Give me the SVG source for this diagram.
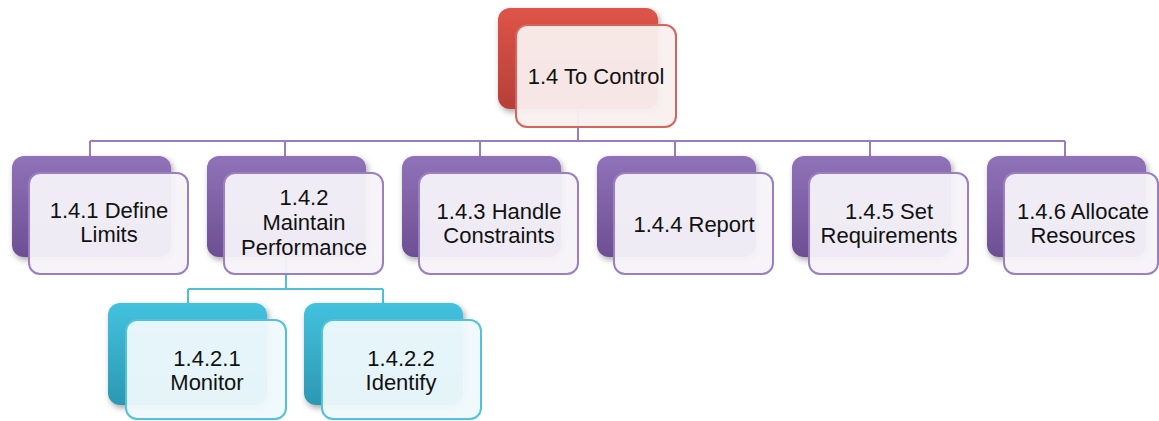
<svg xmlns="http://www.w3.org/2000/svg" width="1159" height="421" viewBox="0 0 1159 421">
  <defs>
    <linearGradient id="gRed" x1="0" y1="0" x2="0" y2="1">
      <stop offset="0" stop-color="#de5449"/>
      <stop offset="1" stop-color="#b63f38"/>
    </linearGradient>
    <linearGradient id="gPurple" x1="0" y1="0" x2="0" y2="1">
      <stop offset="0" stop-color="#9072b9"/>
      <stop offset="1" stop-color="#6d4f93"/>
    </linearGradient>
    <linearGradient id="gCyan" x1="0" y1="0" x2="0" y2="1">
      <stop offset="0" stop-color="#43c2de"/>
      <stop offset="1" stop-color="#2c98b2"/>
    </linearGradient>
    <filter id="shadow" x="-10%" y="-10%" width="125%" height="130%">
      <feDropShadow dx="2" dy="3" stdDeviation="3" flood-color="#000" flood-opacity="0.35"/>
    </filter>
  </defs>
  <style>
    .back { rx: 12px; ry: 12px; filter: url(#shadow); }
    .front { rx: 11px; ry: 11px; stroke-width: 2; }
    .red .back { fill: url(#gRed); }
    .red .front { fill: #f9f0ef; fill-opacity: 0.95; stroke: #d8625c; }
    .purple .back { fill: url(#gPurple); }
    .purple .front { fill: #f5f3f9; fill-opacity: 0.95; stroke: #9a7fc2; }
    .cyan .back { fill: url(#gCyan); }
    .cyan .front { fill: #eff9fc; fill-opacity: 0.95; stroke: #52c2da; }
    text { font-family: "Liberation Sans", Arial, sans-serif; font-size: 22px; fill: #111; text-anchor: middle; }
    .conn { fill: none; stroke-width: 2; }
    .conn.p { stroke: #9a7cc2; }
    .conn.c { stroke: #4fc0d9; }
  </style>

  <!-- tree connectors -->
  <g id="connectors">
    <path class="conn p" d="M578 110 V141 M90 141 H1065 M90 141 V157 M285 141 V157 M480 141 V157 M675 141 V157 M870 141 V157 M1065 141 V157"/>
    <path class="conn c" d="M286 257 V289 M188 289 H383 M188 289 V304 M383 289 V304"/>
  </g>

  <g id="n1_4" class="red">
    <rect class="back" x="498" y="8" width="160" height="101"/>
    <rect class="front" x="516" y="25" width="160" height="102"/>
    <text x="596" y="84">1.4 To Control</text>
  </g>

  <g id="n1_4_1" class="purple">
    <rect class="back" x="12" y="156" width="159" height="101"/>
    <rect class="front" x="29" y="173" width="159" height="101"/>
    <text x="109" y="218">1.4.1 Define</text>
    <text x="109" y="242">Limits</text>
  </g>

  <g id="n1_4_2" class="purple">
    <rect class="back" x="207" y="156" width="159" height="101"/>
    <rect class="front" x="224" y="173" width="159" height="101"/>
    <text x="304" y="205">1.4.2</text>
    <text x="304" y="230">Maintain</text>
    <text x="304" y="255">Performance</text>
  </g>

  <g id="n1_4_3" class="purple">
    <rect class="back" x="402" y="156" width="159" height="101"/>
    <rect class="front" x="419" y="173" width="159" height="101"/>
    <text x="499" y="219">1.4.3 Handle</text>
    <text x="499" y="243">Constraints</text>
  </g>

  <g id="n1_4_4" class="purple">
    <rect class="back" x="597" y="156" width="159" height="101"/>
    <rect class="front" x="614" y="173" width="159" height="101"/>
    <text x="694" y="232">1.4.4 Report</text>
  </g>

  <g id="n1_4_5" class="purple">
    <rect class="back" x="792" y="156" width="159" height="101"/>
    <rect class="front" x="809" y="173" width="159" height="101"/>
    <text x="889" y="219">1.4.5 Set</text>
    <text x="889" y="243">Requirements</text>
  </g>

  <g id="n1_4_6" class="purple">
    <rect class="back" x="987" y="156" width="159" height="101"/>
    <rect class="front" x="1004" y="173" width="154" height="101"/>
    <text x="1083" y="219">1.4.6 Allocate</text>
    <text x="1083" y="243">Resources</text>
  </g>

  <g id="n1_4_2_1" class="cyan">
    <rect class="back" x="108" y="303" width="159" height="102"/>
    <rect class="front" x="126" y="320" width="160" height="99"/>
    <text x="207" y="366">1.4.2.1</text>
    <text x="207" y="390">Monitor</text>
  </g>

  <g id="n1_4_2_2" class="cyan">
    <rect class="back" x="304" y="303" width="159" height="102"/>
    <rect class="front" x="322" y="320" width="159" height="99"/>
    <text x="401" y="366">1.4.2.2</text>
    <text x="401" y="390">Identify</text>
  </g>
</svg>
